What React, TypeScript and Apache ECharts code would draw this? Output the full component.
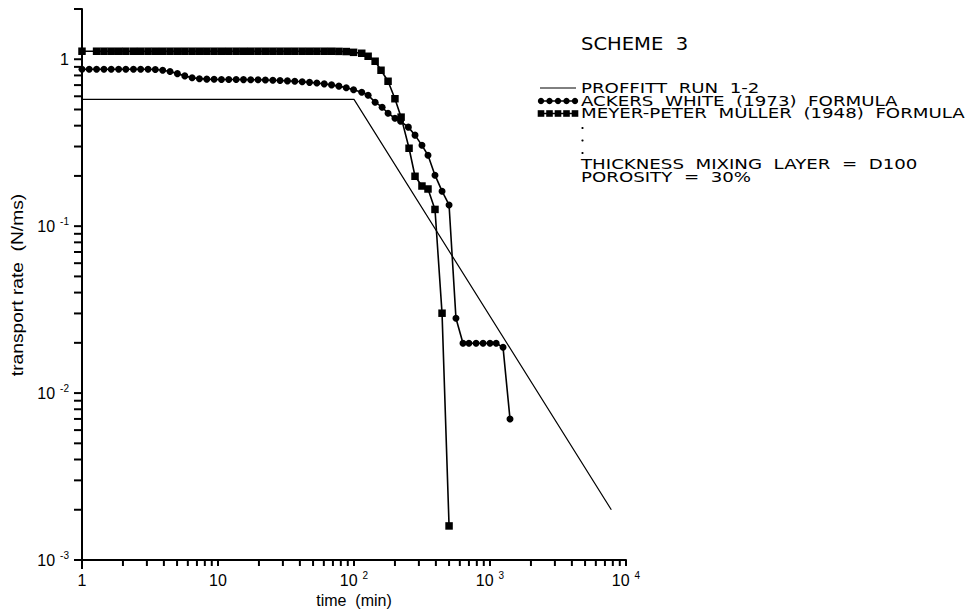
import React, { useEffect, useRef } from 'react';
import * as echarts from 'echarts';

// ---------- data ----------
const PROFFITT_TIME = [1, 100, 7800];
const PROFFITT_RATE = [0.575, 0.575, 0.002];

const AW_TIME = [
  1, 1.13, 1.28, 1.45, 1.64, 1.86, 2.1, 2.39, 2.7, 3.06,
  3.46, 3.92, 4.44, 5.03, 5.7, 6.45, 7.3, 8.27, 9.36, 10.6,
  12, 13.6, 15.4, 17.4, 19.7, 22.3, 25.3, 28.6, 32.4, 36.7,
  41.6, 47.1, 53.3, 60.4, 68.4, 77.4, 87.7, 99.3, 114, 127,
  143, 161, 178, 200, 220, 251, 281, 316, 350, 394,
  444, 500, 562, 633, 700, 790, 889, 1000, 1110, 1247, 1403,
];
const AW_RATE = [
  0.871, 0.871, 0.871, 0.871, 0.871, 0.871, 0.871, 0.871, 0.871, 0.871,
  0.868, 0.86, 0.845, 0.82, 0.795, 0.775, 0.765, 0.76, 0.758, 0.757,
  0.757, 0.756, 0.755, 0.754, 0.753, 0.751, 0.749, 0.746, 0.742, 0.738,
  0.733, 0.727, 0.72, 0.712, 0.702, 0.69, 0.675, 0.656, 0.634, 0.609,
  0.553, 0.516, 0.475, 0.443, 0.425, 0.392, 0.351, 0.305, 0.266, 0.202,
  0.162, 0.134, 0.0281, 0.0199, 0.0199, 0.0199, 0.0199, 0.0199, 0.0199, 0.0188, 0.007,
];

const MPM_TIME = [
  1, 1.28, 1.45, 1.64, 1.86, 2.1, 2.39, 2.7, 3.06,
  3.46, 3.92, 4.44, 5.03, 5.7, 6.45, 7.3, 8.27, 9.36, 10.6,
  12, 13.6, 15.4, 17.4, 19.7, 22.3, 25.3, 28.6, 32.4, 36.7,
  41.6, 47.1, 53.3, 60.4, 68.4, 77.4, 87.7, 99.3, 114, 127,
  143, 158, 178, 200, 222, 254, 281, 316, 350, 394, 444, 500,
];
const MPM_RATE = [
  1.117, 1.117, 1.117, 1.117, 1.117, 1.117, 1.117, 1.117, 1.117,
  1.117, 1.117, 1.117, 1.117, 1.117, 1.117, 1.117, 1.117, 1.117, 1.117,
  1.117, 1.117, 1.117, 1.117, 1.117, 1.117, 1.117, 1.117, 1.117, 1.117,
  1.117, 1.117, 1.117, 1.117, 1.117, 1.115, 1.112, 1.1, 1.086, 1.042,
  0.973, 0.859, 0.738, 0.58, 0.45, 0.293, 0.199, 0.174, 0.167, 0.126, 0.0301, 0.0016,
];

const X_MIN = 1;
const X_MAX = 10000;
const Y_MIN = 0.001;
const Y_MAX = 2;

const X_LABEL_EXPONENTS = [0, 1, 2, 3, 4];
const X_TICK_LABELS = ['1', '10', '10^2', '10^3', '10^4'];
const Y_LABEL_EXPONENTS = [-3, -2, -1, 0];
const Y_TICK_LABELS = ['10^-3', '10^-2', '10^-1', '1'];

const LEGEND_NAMES = [
  'PROFFITT  RUN  1-2',
  'ACKERS  WHITE  (1973)  FORMULA',
  'MEYER-PETER  MULLER  (1948)  FORMULA',
];
const NOTE_LINES = ['THICKNESS  MIXING  LAYER  =  D100', 'POROSITY  =  30%'];
const TITLE = 'SCHEME  3';
const X_NAME = 'time  (min)';
const Y_NAME = 'transport rate  (N/ms)';

// ---------- helpers ----------
const FONT = 'DejaVu Sans';
const AXIS_FONT = 'Liberation Sans';
const TICK_COLOR = '#000';

function decadeTicks(fromExp: number, toExp: number, extraTop: number[] = []) {
  const out: number[] = [];
  for (let e = fromExp; e < toExp; e++) {
    for (let k = 1; k <= 9; k++) out.push(+(k * Math.pow(10, e)).toPrecision(6));
  }
  out.push(Math.pow(10, toExp));
  return out.concat(extraTop);
}

function richLabel(s: string) {
  const i = s.indexOf('^');
  if (i < 0) return '{b|' + s + '}';
  return '{b|' + s.slice(0, i) + '}{s|' + s.slice(i + 1) + '}';
}

const richStyles = {
  b: { fontSize: 16, fontFamily: AXIS_FONT, color: '#000', lineHeight: 20 },
  s: { fontSize: 10, fontFamily: AXIS_FONT, color: '#000', lineHeight: 10, verticalAlign: 'top', padding: [0, 0, 0, 5] },
};

export default function App() {
  const ref = useRef<HTMLDivElement>(null);
  useEffect(() => {
    if (!ref.current) return;
    const chart = echarts.init(ref.current, null, { renderer: 'svg' });

    const option: any = {
      animation: false,
      backgroundColor: '#fff',
      grid: { left: 82, right: 341, top: 9, bottom: 53, containLabel: false, outerBoundsMode: 'none' },
      xAxis: [
        {
          type: 'log', logBase: 10, min: X_MIN, max: X_MAX,
          name: X_NAME, nameLocation: 'middle', nameGap: 32,
          nameTextStyle: { fontFamily: AXIS_FONT, fontSize: 16, color: '#000' },
          axisLine: { lineStyle: { color: '#000', width: 2 } },
          axisTick: { show: false },
          axisLabel: {
            customValues: X_LABEL_EXPONENTS.map((e) => Math.pow(10, e)),
            margin: 10, color: '#000',
            formatter: (v: number) => {
              const idx = X_LABEL_EXPONENTS.indexOf(Math.round(Math.log10(v)));
              return idx >= 0 ? richLabel(X_TICK_LABELS[idx]) : '';
            },
            rich: richStyles,
          },
          splitLine: { show: false },
          minorTick: { show: false },
        },
      ],
      yAxis: [
        {
          type: 'log', logBase: 10, min: Y_MIN, max: Y_MAX,
          axisLine: { lineStyle: { color: '#000', width: 2 } },
          axisTick: { show: false },
          axisLabel: {
            customValues: Y_LABEL_EXPONENTS.map((e) => Math.pow(10, e)),
            margin: 13, color: '#000',
            formatter: (v: number) => {
              const idx = Y_LABEL_EXPONENTS.indexOf(Math.round(Math.log10(v)));
              return idx >= 0 ? richLabel(Y_TICK_LABELS[idx]) : '';
            },
            rich: richStyles,
          },
          splitLine: { show: false },
          minorTick: { show: false },
        },
      ],
      series: [
        {
          name: LEGEND_NAMES[0], type: 'line',
          data: PROFFITT_TIME.map((t, i) => [t, PROFFITT_RATE[i]]),
          showSymbol: false, symbol: 'none',
          lineStyle: { color: '#000', width: 1.2 },
        },
        {
          name: LEGEND_NAMES[1], type: 'line',
          data: AW_TIME.map((t, i) => [t, AW_RATE[i]]),
          symbol: 'circle', symbolSize: 7, showAllSymbol: true,
          itemStyle: { color: '#000' },
          lineStyle: { color: '#000', width: 1.6 },
        },
        {
          name: LEGEND_NAMES[2], type: 'line',
          data: MPM_TIME.map((t, i) => [t, MPM_RATE[i]]),
          symbol: 'rect', symbolSize: 7.5, showAllSymbol: true,
          itemStyle: { color: '#000' },
          lineStyle: { color: '#000', width: 1.6 },
        },
      ],
    };
    chart.setOption(option);

    // ---- graphic layer: axis tick marks positioned through the axis scales, legend block ----
    const graphic: any[] = [];
    const toPx = (pt: number[]) => chart.convertToPixel({ xAxisIndex: 0, yAxisIndex: 0 }, pt) as any;

    decadeTicks(0, 4).forEach((v) => {
      const p = toPx([v, Y_MIN]);
      const x = p && isFinite(p[0]) ? p[0] : 82 + Math.log10(v) * ((967 - 341 - 82) / 4);
      const y = p && isFinite(p[1]) ? p[1] : 560;
      graphic.push({
        type: 'rect', silent: true, z: 100,
        shape: { x: x - 1, y: y, width: 2, height: v === X_MIN ? 9 : 6 },
        style: { fill: TICK_COLOR },
      });
    });
    decadeTicks(-3, 0, [Y_MAX]).forEach((v) => {
      const p = toPx([X_MIN, v]);
      const x = p && isFinite(p[0]) ? p[0] : 82;
      const y = p && isFinite(p[1]) ? p[1] : 560 - (Math.log10(v) + 3) * (501 / 3);
      graphic.push({
        type: 'rect', silent: true, z: 100,
        shape: { x: x - 8, y: y - 1, width: 8, height: 2 },
        style: { fill: TICK_COLOR },
      });
    });

    const lx = 540, rx = 576, tx = 581;
    const rows = [88, 101, 113.5];
    const sampleXs = [541, 549.5, 558, 566.5, 575];
    const textScale = 1.3;
    graphic.push({
      type: 'text', x: tx, y: 44, scaleX: 1.15,
      style: { text: TITLE, font: `17px "${FONT}"`, fill: '#000', verticalAlign: 'middle' },
    });
    graphic.push({ type: 'line', shape: { x1: lx, y1: rows[0], x2: rx, y2: rows[0] }, style: { stroke: '#000', lineWidth: 1 } });
    graphic.push({ type: 'line', shape: { x1: lx, y1: rows[1], x2: rx, y2: rows[1] }, style: { stroke: '#000', lineWidth: 1.5 } });
    graphic.push({ type: 'line', shape: { x1: lx, y1: rows[2], x2: rx, y2: rows[2] }, style: { stroke: '#000', lineWidth: 1.5 } });
    sampleXs.forEach((sx) => {
      graphic.push({ type: 'circle', shape: { cx: sx, cy: rows[1], r: 3.2 }, style: { fill: '#000' } });
      graphic.push({ type: 'rect', shape: { x: sx - 3.3, y: rows[2] - 3.3, width: 6.6, height: 6.6 }, style: { fill: '#000' } });
    });
    LEGEND_NAMES.forEach((name, i) => {
      graphic.push({
        type: 'text', x: tx, y: rows[i], scaleX: textScale,
        style: { text: name, font: `14px "${FONT}"`, fill: '#000', verticalAlign: 'middle' },
      });
    });
    [128, 140.5, 153].forEach((dy) => {
      graphic.push({ type: 'circle', shape: { cx: tx + 1.5, cy: dy, r: 1.1 }, style: { fill: '#000' } });
    });
    NOTE_LINES.forEach((line, i) => {
      graphic.push({
        type: 'text', x: tx, y: [164.5, 177][i], scaleX: textScale,
        style: { text: line, font: `14px "${FONT}"`, fill: '#000', verticalAlign: 'middle' },
      });
    });
    graphic.push({
      type: 'text', x: 18, y: 285, rotation: Math.PI / 2, scaleX: 1.2,
      style: { text: Y_NAME, font: `16px "${AXIS_FONT}"`, fill: '#000', align: 'center', verticalAlign: 'middle' },
    });

    chart.setOption({ graphic });
    return () => chart.dispose();
  }, []);
  return (
    <div
      ref={ref}
      style={{ position: 'fixed', left: 0, top: 0, width: 967, height: 613, background: '#fff' }}
    />
  );
}
